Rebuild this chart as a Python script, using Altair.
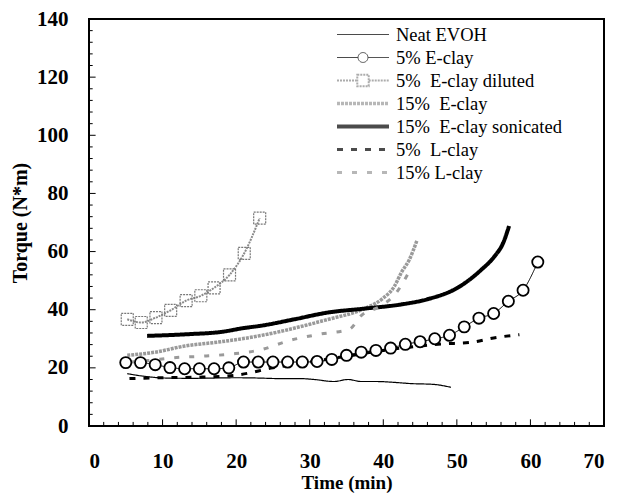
import altair as alt
import pandas as pd

series_names = ["Neat EVOH", "5% E-clay", "5%\u00a0 E-clay diluted", "15%\u00a0 E-clay",
                "15%\u00a0 E-clay sonicated", "5%\u00a0 L-clay", "15% L-clay"]

neat_t = [5.2, 7.2, 10.4, 14, 17, 20, 23, 26, 28.8, 30.6, 33.3, 35.2, 37, 39.2, 41.5, 43.7, 46.9, 49.2]
neat_v = [18.0, 17.2, 16.5, 16.4, 16.5, 16.6, 16.5, 16.3, 16.3, 16.0, 15.3, 16.0, 15.3, 15.3, 15.0, 14.6, 14.3, 13.3]

e5_t = [5, 7, 9, 11, 13, 15, 17, 19, 21, 23, 25, 27, 29, 31, 33, 35, 37, 39, 41, 43, 45, 47, 49, 51, 53, 55, 57, 59, 61]
e5_v = [21.8, 21.8, 21.1, 20.1, 19.7, 19.7, 19.7, 20.0, 22.0, 22.0, 22.0, 22.0, 22.0, 22.2, 22.9, 24.3, 25.4,
        26.0, 26.8, 28.1, 29.0, 30.0, 31.2, 34.1, 37.1, 38.7, 42.9, 46.7, 56.4]

dil_t = [5.2, 7.1, 9.1, 11.1, 13.2, 15.2, 17.0, 19.1, 21.1, 23.2]
dil_v = [36.7, 35.6, 37.3, 39.8, 43.1, 44.8, 47.5, 52.0, 59.4, 71.5]

e15_t = [5.2, 9, 13, 18, 22, 26, 30, 33, 36, 38, 40, 41.5, 42.5, 43.5, 44.6]
e15_v = [24.3, 25.4, 27.5, 29.0, 30.5, 32.5, 35.0, 37.0, 39.0, 41.0, 44.0, 48.0, 53.0, 57.0, 64.0]

son_t = [7.9, 13.6, 18.1, 20.8, 23.4, 27.9, 32.4, 37.5, 42.4, 46, 50.2, 53.3, 55.1, 56.3, 57.1]
son_v = [31.0, 31.6, 32.4, 33.6, 34.5, 36.7, 39.0, 40.4, 41.8, 43.6, 47.7, 53.7, 58.3, 63.0, 68.8]

l5_t = [5.5, 10, 15, 20, 25, 30, 35, 40, 45, 48, 52, 55, 58.5]
l5_v = [16.3, 16.6, 16.8, 17.5, 20.0, 22.0, 24.0, 26.0, 27.5, 28.2, 28.8, 30.3, 31.4]

l15_t = [5.5, 8, 11.5, 15.4, 19.5, 23.3, 27.4, 31.4, 35.4, 37, 39.7, 41.5, 43.5]
l15_v = [22.0, 22.5, 23.5, 24.0, 24.8, 26.2, 29.5, 31.6, 33.3, 38.0, 41.3, 45.0, 53.0]

x_ticks_minor = [t for t in range(2, 70, 2) if t % 10 != 0]
x_ticks_major = [10, 20, 30, 40, 50, 60]
y_ticks_minor = [v for v in range(4, 140, 4) if v % 20 != 0]
y_ticks_major = [20, 40, 60, 80, 100, 120]

line_colors = ["black", "black", "#8a8a8a", "#9a9a9a", "black", "black", "#9a9a9a"]
line_dashes = [[1, 0], [1, 0], [2, 1], [3, 1], [1, 0], [6, 8], [5, 10]]
line_widths = [1.2, 1.0, 2.0, 3.5, 4.0, 3.0, 3.0]
circ_path = "M-1,0H-0.19M0.19,0H1M0.19,0A0.19,0.19 0 1,1 -0.19,0A0.19,0.19 0 1,1 0.19,0"
sq_path = "M-1,0H-0.22M0.22,0H1M-0.22,-0.22H0.22V0.22H-0.22Z"
legend_shapes = ["stroke", circ_path, sq_path, "stroke", "stroke", "stroke", "stroke"]

rows = []
for name, ts, vs in zip(series_names,
                        [neat_t, e5_t, dil_t, e15_t, son_t, l5_t, l15_t],
                        [neat_v, e5_v, dil_v, e15_v, son_v, l5_v, l15_v]):
    for t, v in zip(ts, vs):
        rows.append({"series": name, "t": t, "v": v})
df = pd.DataFrame(rows)

FONT = "Liberation Serif"
xscale = alt.Scale(domain=[0, 70], nice=False, zero=False)
yscale = alt.Scale(domain=[0, 140], nice=False)

x_axis = alt.Axis(values=list(range(0, 80, 10)), title="Time (min)", grid=False, ticks=False, domain=False,
                  labelFont=FONT, labelFontSize=21, labelFontWeight="bold", labelPadding=24,
                  titleFont=FONT, titleFontSize=19, titleFontWeight="bold", titlePadding=2,
                  labelColor="black", titleColor="black")
y_axis = alt.Axis(values=list(range(0, 160, 20)), title="Torque (N*m)", grid=False, ticks=False, domain=False,
                  labelFont=FONT, labelFontSize=21, labelFontWeight="bold", labelPadding=21,
                  titleFont=FONT, titleFontSize=20, titleFontWeight="bold", titlePadding=6,
                  labelColor="black", titleColor="black")

legend = alt.Legend(title=None, orient="none", legendX=246, legendY=4, symbolSize=2704,
                    labelFont=FONT, labelFontSize=18.5, labelColor="black", labelOffset=5,
                    labelLimit=300, padding=0, rowPadding=0, clipHeight=23)

lines = alt.Chart(df).mark_line(interpolate="monotone").encode(
    x=alt.X("t:Q", scale=xscale, axis=x_axis),
    y=alt.Y("v:Q", scale=yscale, axis=y_axis),
    color=alt.Color("series:N", scale=alt.Scale(domain=series_names, range=line_colors), legend=legend),
    strokeDash=alt.StrokeDash("series:N", scale=alt.Scale(domain=series_names, range=line_dashes), legend=legend),
    strokeWidth=alt.StrokeWidth("series:N", scale=alt.Scale(type="ordinal", domain=series_names, range=line_widths), legend=legend),
    detail="series:N",
)

legend_shape_layer = alt.Chart(df).mark_point(filled=False).encode(
    x=alt.X("t:Q", scale=xscale, axis=x_axis),
    y=alt.Y("v:Q", scale=yscale, axis=y_axis),
    shape=alt.Shape("series:N", scale=alt.Scale(domain=series_names, range=legend_shapes), legend=legend),
).transform_filter("false")

circles = alt.Chart(df).transform_filter(alt.datum.series == "5% E-clay").mark_point(
    shape="circle", size=125, filled=True, fill="white", stroke="black", strokeWidth=1.8, opacity=1
).encode(x=alt.X("t:Q", scale=xscale, axis=x_axis), y=alt.Y("v:Q", scale=yscale, axis=y_axis))

squares = alt.Chart(df).transform_filter(alt.datum.series == "5%\u00a0 E-clay diluted").mark_point(
    shape="square", size=144, filled=False, stroke="#777777", strokeWidth=1.2, strokeDash=[2, 1], opacity=1
).encode(x=alt.X("t:Q", scale=xscale, axis=x_axis), y=alt.Y("v:Q", scale=yscale, axis=y_axis))

xt_minor = alt.Chart(pd.DataFrame({"t": x_ticks_minor})).mark_rule(color="black", strokeWidth=1).encode(
    x=alt.X("t:Q", scale=xscale, axis=x_axis), y=alt.datum(0), y2=alt.datum(1.4))
xt_major = alt.Chart(pd.DataFrame({"t": x_ticks_major})).mark_rule(color="black", strokeWidth=1).encode(
    x=alt.X("t:Q", scale=xscale, axis=x_axis), y=alt.datum(0), y2=alt.datum(2.3))
yt_minor = alt.Chart(pd.DataFrame({"v": y_ticks_minor})).mark_rule(color="black", strokeWidth=1).encode(
    y=alt.Y("v:Q", scale=yscale, axis=y_axis), x=alt.datum(0), x2=alt.datum(0.5))
yt_major = alt.Chart(pd.DataFrame({"v": y_ticks_major})).mark_rule(color="black", strokeWidth=1).encode(
    y=alt.Y("v:Q", scale=yscale, axis=y_axis), x=alt.datum(0), x2=alt.datum(0.9))

chart = alt.layer(xt_minor, xt_major, yt_minor, yt_major, lines, legend_shape_layer, squares, circles).properties(
    width=515, height=407,
    autosize=alt.AutoSizeParams(type="none"),
    padding={"left": 89, "top": 19, "right": 14, "bottom": 67},
    background="white",
).configure_view(stroke="black", strokeWidth=2).configure_legend(
    labelFont=FONT, labelFontSize=18.5, labelColor="black", labelLimit=300
)

chart.save("out.html", embed_options={"renderer": "svg", "actions": False})
